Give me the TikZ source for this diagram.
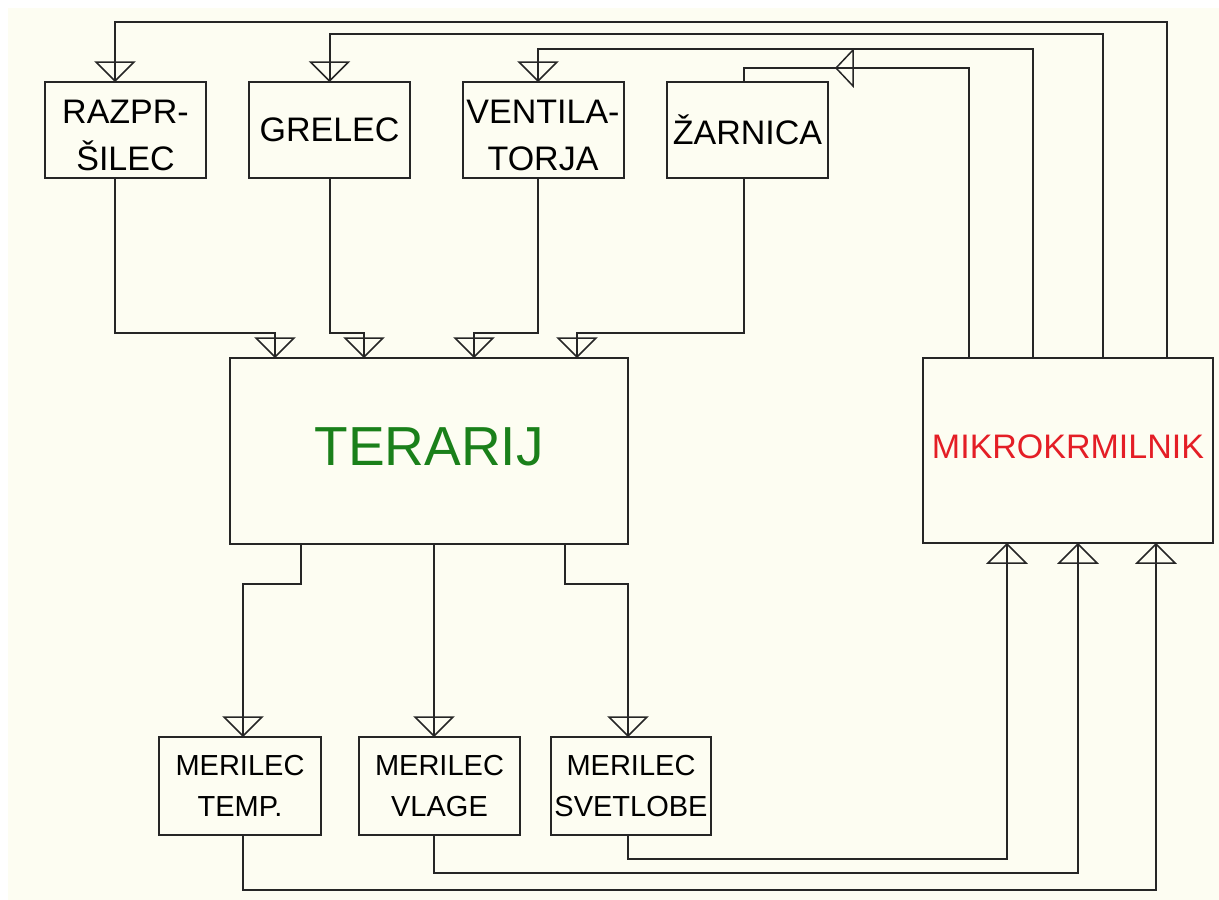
\documentclass[tikz,border=0pt]{standalone}
\usepackage{fontspec}
\setmainfont{Liberation Sans}
\usetikzlibrary{decorations.markings}
\definecolor{bgcream}{HTML}{FDFDF2}
\definecolor{tgreen}{HTML}{1A801A}
\definecolor{mred}{HTML}{E41E26}
\definecolor{ink}{HTML}{262626}
\newcommand{\lowertext}[2]{\raisebox{#1}[0pt][0pt]{\begin{tabular}{@{}c@{}}#2\end{tabular}}}
\tikzset{
  box/.style={draw=ink, line width=2pt, inner sep=0pt, align=center},
  topbox/.style={box, minimum width=161pt, minimum height=96pt, font=\fontsize{34}{47}\selectfont},
  botbox/.style={box, minimum width=161pt, minimum height=98pt, font=\fontsize{29}{41}\selectfont},
  wire/.style={draw=ink, line width=2pt},
  flow/.style={wire, postaction={decorate, decoration={markings,
    mark=at position 1 with {\draw[ink, line width=1.5pt, line join=miter] (0,0) -- (-19pt,19pt) -- (-19pt,-19pt) -- cycle;}}}},
  midflow/.style={wire, postaction={decorate, decoration={markings,
    mark=at position #1 with {\draw[ink, line width=1.5pt, line join=miter] (0,0) -- (-17pt,18pt) -- (-17pt,-18pt) -- cycle;}}}},
}
\begin{document}
\begin{tikzpicture}[x=1pt, y=-1pt]
\useasboundingbox (0,0) rectangle (1219,900);
\fill[white] (0,0) rectangle (1219,900);
\fill[bgcream] (8,8) rectangle (1219,900);

% top boxes
\node[topbox] (raz) at (125.5,130) {\lowertext{-14pt}{RAZPR-\\ŠILEC}};
\node[topbox] (grel) at (329.5,130) {GRELEC};
\node[topbox] (vent) at (543,130) {\lowertext{-14pt}{VENTILA-\\TORJA}};
\node[topbox] (zar) at (747.5,130) {ŽARNICA};

% main boxes
\node[box, minimum width=398pt, minimum height=186pt, text=tgreen, text height=28pt, text depth=0pt, font=\fontsize{55}{60}\selectfont] (ter) at (429,451) {TERARIJ};
\node[box, minimum width=290pt, minimum height=185pt, text=mred, text height=15pt, text depth=0pt, font=\fontsize{34}{40}\selectfont] (mik) at (1068,450.5) {MIKROKRMILNIK};

% bottom boxes
\node[botbox, minimum width=162pt] (tmp) at (240,786) {MERILEC\\TEMP.};
\node[botbox] (vla) at (439.5,786) {MERILEC\\VLAGE};
\node[botbox, minimum width=160pt] (sve) at (631,786) {MERILEC\\SVETLOBE};

% microcontroller to actuators
\draw[flow] ([xshift=99pt]mik.north) -- ++(0,-335) -| ([xshift=-10.5pt]raz.north);
\draw[flow] ([xshift=35pt]mik.north) -- ++(0,-323) -| (grel.north);
\draw[flow] ([xshift=-35pt]mik.north) -- ++(0,-308) -| ([xshift=-5pt]vent.north);
\draw[midflow=422pt] ([xshift=-99pt]mik.north) -- ++(0,-289) -| ([xshift=-3.5pt]zar.north);

% actuators to terrarium
\draw[flow] ([xshift=-10.5pt]raz.south) -- ++(0,154) -| ([xshift=-154pt]ter.north);
\draw[flow] (grel.south) -- ++(0,154) -| ([xshift=-65pt]ter.north);
\draw[flow] ([xshift=-5pt]vent.south) -- ++(0,154) -| ([xshift=45pt]ter.north);
\draw[flow] ([xshift=-3.5pt]zar.south) -- ++(0,154) -| ([xshift=148pt]ter.north);

% terrarium to sensors
\draw[flow] ([xshift=-128pt]ter.south) -- ++(0,39) -| ([xshift=3pt]tmp.north);
\draw[flow] ([xshift=5pt]ter.south) -- ([xshift=-5.5pt]vla.north);
\draw[flow] ([xshift=136pt]ter.south) -- ++(0,39) -| ([xshift=-3pt]sve.north);

% sensors to microcontroller
\draw[flow] ([xshift=3pt]tmp.south) -- ++(0,54) -| ([xshift=88pt]mik.south);
\draw[flow] ([xshift=-5.5pt]vla.south) -- ++(0,37) -| ([xshift=10pt]mik.south);
\draw[flow] ([xshift=-3pt]sve.south) -- ++(0,23) -| ([xshift=-61pt]mik.south);
\end{tikzpicture}
\end{document}
